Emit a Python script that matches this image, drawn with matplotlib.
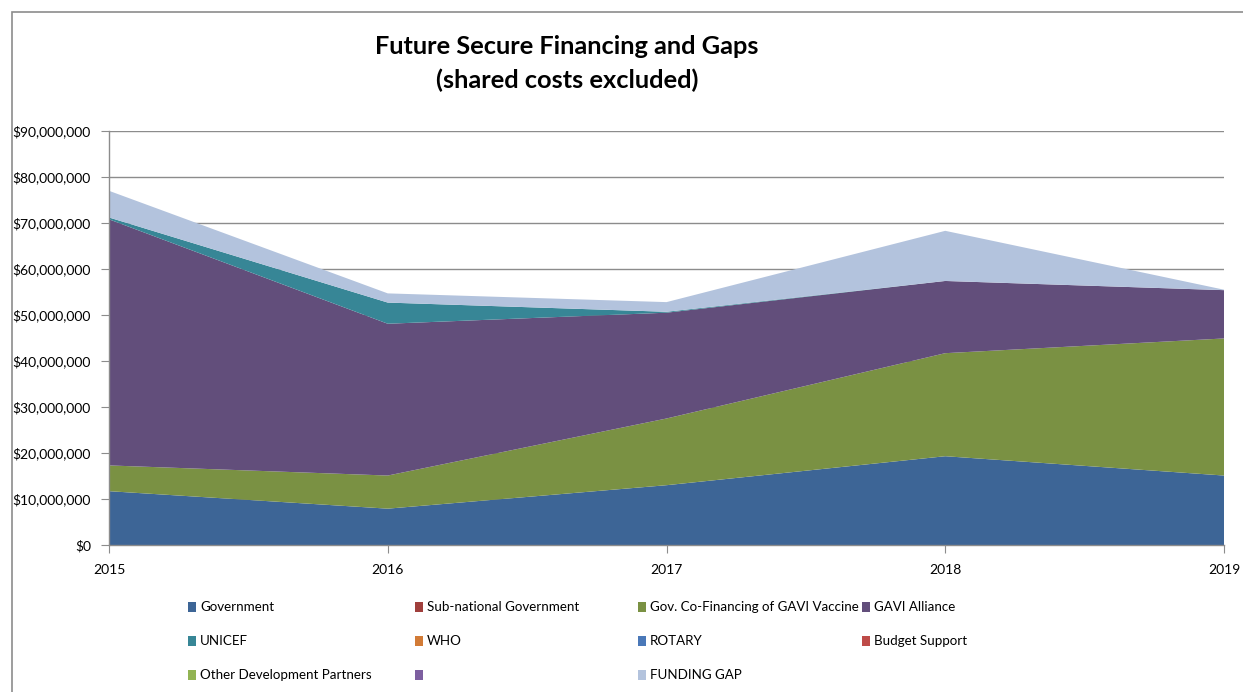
import matplotlib
matplotlib.use("Agg")
import matplotlib.pyplot as plt
from matplotlib.patches import Rectangle
from matplotlib.ticker import FuncFormatter, MultipleLocator

# ---------------- data (US$ millions) ----------------
years = [2015, 2016, 2017, 2018, 2019]
government = [11.7, 7.9, 13.0, 19.3, 15.1]
sub_national = [0, 0, 0, 0, 0]
gov_cofinancing = [5.6, 7.2, 14.5, 22.4, 29.8]
gavi_alliance = [53.5, 33.0, 23.0, 15.7, 10.5]
unicef = [0.4, 4.6, 0.2, 0.0, 0.0]
who = [0, 0, 0, 0, 0]
rotary = [0, 0, 0, 0, 0]
budget_support = [0, 0, 0, 0, 0]
other_partners = [0, 0, 0, 0, 0]
blank_series = [0, 0, 0, 0, 0]
funding_gap = [5.8, 2.0, 2.1, 10.9, 0.1]

labels = ["Government", "Sub-national Government", "Gov. Co-Financing of GAVI Vaccine",
          "GAVI Alliance", "UNICEF", "WHO", "ROTARY", "Budget Support",
          "Other Development Partners", "", "FUNDING GAP"]
colors = ["#3D6596", "#A03F3C", "#7A9143", "#624E7B", "#378696", "#D27B36",
          "#4A78B8", "#BE4B48", "#92B453", "#7D5FA0", "#B3C3DD"]
series = [government, sub_national, gov_cofinancing, gavi_alliance, unicef, who,
          rotary, budget_support, other_partners, blank_series, funding_gap]

title = "Future Secure Financing and Gaps\n(shared costs excluded)"

plt.rcParams['font.family'] = ['Lato', 'DejaVu Sans']

W, H = 1243, 692
fig = plt.figure(figsize=(W / 100, H / 100), dpi=100)

def fx(px):
    return px / W

def fy(py):
    return 1 - py / H

# outer chart border
fig.patches.append(Rectangle((fx(12), fy(H + 5)), fx(W + 20), fy(12) - fy(H + 5),
                             transform=fig.transFigure, fill=False,
                             edgecolor="#8C8C8C", linewidth=1.2))

left, right, top, bottom = 109, 1224, 131, 545
ax = fig.add_axes([fx(left), fy(bottom), fx(right - left), fy(top) - fy(bottom)])

vals = [[v * 1e6 for v in s] for s in series]
ax.stackplot(years, *vals, colors=colors, linewidth=0)

ax.set_xlim(2015, 2019)
ax.set_ylim(0, 90e6)
ax.yaxis.set_major_locator(MultipleLocator(10e6))
ax.yaxis.set_major_formatter(FuncFormatter(lambda v, p: "${:,.0f}".format(v)))
ax.set_xticks(years)
ax.set_xticklabels([str(y) for y in years])
ax.grid(axis="y", color="#8C8C8C", linewidth=1.0)
ax.set_axisbelow(True)
for s in ["top", "right"]:
    ax.spines[s].set_visible(False)
for s in ["left", "bottom"]:
    ax.spines[s].set_color("#8C8C8C")
    ax.spines[s].set_linewidth(1.0)
ax.tick_params(axis="both", colors="#8C8C8C", labelcolor="black", labelsize=10,
               length=6, direction="out")
ax.tick_params(axis="y", pad=7)
ax.tick_params(axis="x", pad=8)

# title
fig.text(fx(567), fy(63.5), title, ha="center", va="center", fontsize=18.3,
         fontweight="bold", linespacing=1.5)

# legend laid out row-major, 4 columns x 3 rows
col_x = [188, 415, 638, 862]
row_y = [607, 641, 675]
for i, (lab, col) in enumerate(zip(labels, colors)):
    r, c = divmod(i, 4)
    if i == 10:
        r, c = 2, 2
    x0, y0 = col_x[c], row_y[r]
    fig.patches.append(Rectangle((fx(x0), fy(y0 + 5)), fx(8), fy(y0 - 5) - fy(y0 + 5),
                                 transform=fig.transFigure, facecolor=col,
                                 edgecolor="none"))
    fig.text(fx(x0 + 12), fy(y0), lab, ha="left", va="center", fontsize=9.6)

fig.savefig("out.png", dpi=100)
